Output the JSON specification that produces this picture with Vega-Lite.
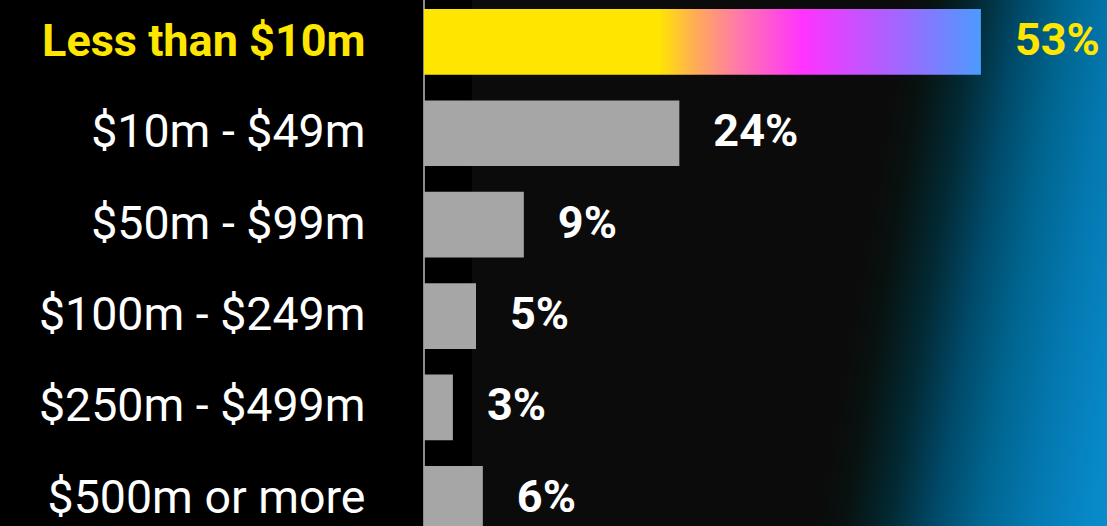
{
  "$schema": "https://vega.github.io/schema/vega-lite/v6.json",
  "width": 683,
  "height": 526,
  "autosize": {"type": "none"},
  "padding": {"left": 424, "top": 0, "right": 0, "bottom": 0},
  "background": "#000000",
  "config": {"view": {"stroke": null}, "font": "Roboto"},
  "datasets": {
    "bars": [
      {"category": "Less than $10m", "value": 53, "label": "53%", "highlight": true},
      {"category": "$10m - $49m", "value": 24.3, "label": "24%", "highlight": false},
      {"category": "$50m - $99m", "value": 9.5, "label": "9%", "highlight": false},
      {"category": "$100m - $249m", "value": 4.95, "label": "5%", "highlight": false},
      {"category": "$250m - $499m", "value": 2.75, "label": "3%", "highlight": false},
      {"category": "$500m or more", "value": 5.6, "label": "6%", "highlight": false}
    ],
    "one": [{}]
  },
  "layer": [
    {
      "data": {"name": "one"},
      "mark": {
        "type": "rect",
        "color": {
          "gradient": "linear",
          "x1": 0, "y1": 0, "x2": 1.15, "y2": 0.16,
          "stops": [
            {"offset": 0, "color": "#0b0b0b"},
            {"offset": 0.58, "color": "#0b0b0b"},
            {"offset": 0.62, "color": "#081210"},
            {"offset": 0.68, "color": "#022a34"},
            {"offset": 0.74, "color": "#004a6a"},
            {"offset": 0.8, "color": "#00658f"},
            {"offset": 0.87, "color": "#0478b0"},
            {"offset": 0.94, "color": "#0787c6"},
            {"offset": 1, "color": "#0b90d0"}
          ]
        }
      },
      "encoding": {
        "x": {"datum": 4.56, "type": "quantitative", "scale": {"domain": [0, 65], "nice": false}, "axis": null},
        "x2": {"datum": 65}
      }
    },
    {
      "data": {"name": "one"},
      "mark": {"type": "rule", "color": "#8c8c8c", "strokeWidth": 2},
      "encoding": {
        "x": {"datum": 0, "type": "quantitative"}
      }
    },
    {
      "data": {"name": "bars"},
      "transform": [{"filter": "!datum.highlight"}],
      "mark": {"type": "bar", "color": "#a6a6a6"},
      "encoding": {
        "x": {"field": "value", "type": "quantitative"},
        "y": {
          "field": "category",
          "type": "nominal",
          "sort": ["Less than $10m", "$10m - $49m", "$50m - $99m", "$100m - $249m", "$250m - $499m", "$500m or more"],
          "scale": {"range": [9, 531.7], "paddingInner": 0.281, "paddingOuter": 0},
          "axis": {
            "title": null,
            "domain": false,
            "ticks": false,
            "grid": false,
            "labelPadding": 59,
            "labelLimit": 420,
            "labelFont": "Roboto",
            "labelFontSize": {"condition": {"test": "datum.value === 'Less than $10m'", "value": 45}, "value": 46.5},
            "labelFontWeight": {"condition": {"test": "datum.value === 'Less than $10m'", "value": "bold"}, "value": "normal"},
            "labelColor": {"condition": {"test": "datum.value === 'Less than $10m'", "value": "#FFE600"}, "value": "#ffffff"}
          }
        }
      }
    },
    {
      "data": {"name": "bars"},
      "transform": [{"filter": "datum.highlight"}],
      "mark": {
        "type": "bar",
        "color": {
          "gradient": "linear",
          "x1": 0, "y1": 0, "x2": 1, "y2": 0,
          "stops": [
            {"offset": 0, "color": "#FFE600"},
            {"offset": 0.42, "color": "#FFE600"},
            {"offset": 0.49, "color": "#FFAA5A"},
            {"offset": 0.56, "color": "#FF7CA6"},
            {"offset": 0.68, "color": "#FF33FF"},
            {"offset": 0.85, "color": "#A366FF"},
            {"offset": 1, "color": "#4C9BFF"}
          ]
        }
      },
      "encoding": {
        "x": {"field": "value", "type": "quantitative"},
        "y": {"field": "category", "type": "nominal", "sort": ["Less than $10m", "$10m - $49m", "$50m - $99m", "$100m - $249m", "$250m - $499m", "$500m or more"]}
      }
    },
    {
      "data": {"name": "bars"},
      "mark": {"type": "text", "align": "left", "baseline": "middle", "dx": 34, "dy": -1, "font": "Roboto", "fontSize": 45, "fontWeight": "bold"},
      "encoding": {
        "x": {"field": "value", "type": "quantitative"},
        "y": {"field": "category", "type": "nominal", "sort": ["Less than $10m", "$10m - $49m", "$50m - $99m", "$100m - $249m", "$250m - $499m", "$500m or more"]},
        "text": {"field": "label"},
        "color": {"condition": {"test": "datum.highlight", "value": "#FFE600"}, "value": "#ffffff"}
      }
    }
  ]
}
